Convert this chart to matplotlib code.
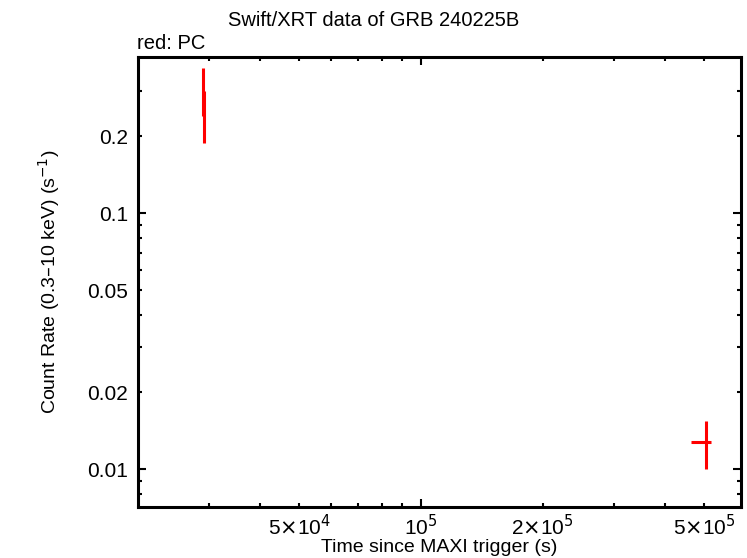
import matplotlib
matplotlib.use("Agg")
import matplotlib.pyplot as plt
from matplotlib.ticker import FixedLocator, FixedFormatter

plt.rcParams['font.family'] = ['Liberation Sans', 'DejaVu Sans']

# PC mode points
t = [2.895e4, 2.905e4, 5.05e5]
t_lo = [2.885e4, 2.895e4, 4.66e5]
t_hi = [2.905e4, 2.915e4, 5.22e5]
rate = [0.30, 0.245, 0.0128]
rate_lo = [0.24, 0.188, 0.0100]
rate_hi = [0.37, 0.30, 0.0154]

xerr = [[a - b for a, b in zip(t, t_lo)], [b - a for a, b in zip(t, t_hi)]]
yerr = [[a - b for a, b in zip(rate, rate_lo)], [b - a for a, b in zip(rate, rate_hi)]]

fig = plt.figure(figsize=(7.47, 5.58), dpi=100)
ax = fig.add_axes([0.1847, 0.0914, 0.807, 0.806])

ax.errorbar(t, rate, xerr=xerr, yerr=yerr, fmt='none', ecolor='red', elinewidth=2.2, capsize=0)

ax.set_xscale('log')
ax.set_yscale('log')
ax.set_xlim(2.0e4, 6.17e5)
ax.set_ylim(0.00711, 0.407)

# decade ticks are long, the rest short; some short ones carry labels
xmaj = [1e5]
xmaj_lab = [r'10$^5$']
xmin = [3e4, 4e4, 5e4, 6e4, 7e4, 8e4, 9e4, 2e5, 3e5, 4e5, 5e5]
xmin_lab = ['', '', r'5$\times$10$^4$', '', '', '', '', r'2$\times$10$^5$', '', '', r'5$\times$10$^5$']
ymaj = [0.01, 0.1]
ymaj_lab = ['0.01', '0.1']
ymin = [0.008, 0.009, 0.02, 0.03, 0.04, 0.05, 0.06, 0.07, 0.08, 0.09, 0.2, 0.3]
ymin_lab = ['', '', '0.02', '', '', '0.05', '', '', '', '', '0.2', '']

ax.xaxis.set_major_locator(FixedLocator(xmaj))
ax.xaxis.set_major_formatter(FixedFormatter(xmaj_lab))
ax.xaxis.set_minor_locator(FixedLocator(xmin))
ax.xaxis.set_minor_formatter(FixedFormatter(xmin_lab))
ax.yaxis.set_major_locator(FixedLocator(ymaj))
ax.yaxis.set_major_formatter(FixedFormatter(ymaj_lab))
ax.yaxis.set_minor_locator(FixedLocator(ymin))
ax.yaxis.set_minor_formatter(FixedFormatter(ymin_lab))

ax.tick_params(which='both', direction='in', top=True, right=True, width=1.5, labelsize=15)
ax.tick_params(axis='x', which='both', pad=5)
ax.tick_params(axis='y', which='both', pad=7)
ax.tick_params(which='major', length=5.5)
ax.tick_params(which='minor', length=3)
for s in ax.spines.values():
    s.set_linewidth(2.2)

ax.set_xlabel('Time since MAXI trigger (s)', fontsize=14, labelpad=0)
ax.set_ylabel('Count Rate (0.3\u201310 keV) (s$^{-1}$)', fontsize=14, labelpad=18)
fig.text(0.5, 0.963, 'Swift/XRT data of GRB 240225B', ha='center', va='center', fontsize=14.5)
fig.text(0.184, 0.922, 'red: PC', ha='left', va='center', fontsize=14.5)

fig.savefig('out.png', dpi=100)
